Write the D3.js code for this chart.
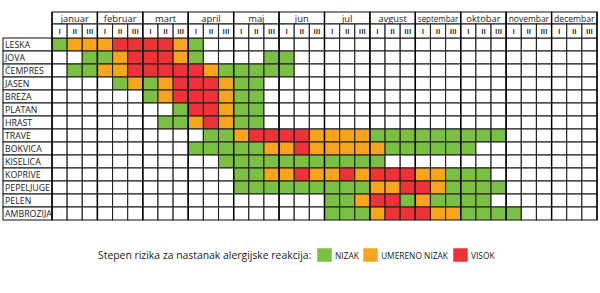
<!DOCTYPE html>
<html>
<head>
<meta charset="utf-8">
<script src="https://cdn.jsdelivr.net/npm/d3@7"></script>
<style>
  body { margin: 0; background: #fff; }
  svg { display: block; font-family: "Open Sans", Lato, sans-serif; }
</style>
</head>
<body>
<div id="chart"></div>
<script>
// months and decades of the pollen calendar
const months = ['januar', 'februar', 'mart', 'april', 'maj', 'jun', 'jul', 'avgust', 'septembar', 'oktobar', 'novembar', 'decembar'];
const decades = ['I', 'II', 'III'];
const plants = ['LESKA', 'JOVA', 'ČEMPRES', 'JASEN', 'BREZA', 'PLATAN', 'HRAST', 'TRAVE', 'BOKVICA', 'KISELICA', 'KOPRIVE', 'PEPELJUGE', 'PELEN', 'AMBROZIJA'];
// one char per decade: 0 none, 1 nizak, 2 umereno nizak, 3 visok
const levels = [
    '122233332100000000000000000000000000',
    '001123332100001100000000000000000000',
    '011223333321111100000000000000000000',
    '000012123332110000000000000000000000',
    '000000123332110000000000000000000000',
    '000000001332110000000000000000000000',
    '000000011232110000000000000000000000',
    '000000000011233332222111111111000000',
    '000000000111112232222211111100000000',
    '000000000001111111111100000000000000',
    '000000000000112232232333221110000000',
    '000000000000111111111223321111000000',
    '000000000000000000112331211110000000',
    '000000000000000000111233322111100000'
];
const legendLabels = ['NIZAK', 'UMERENO NIZAK', 'VISOK'];
const legendTitle = 'Stepen rizika za nastanak alergijske reakcija:';

const colors = { 1: '#7ac143', 2: '#f8a51d', 3: '#ed3338' };

let w = 600, h = 293;
let svg = d3.select('#chart').append('svg').attr('width', w).attr('height', h);

let cols = d3.range(months.length * decades.length);
let x = d3.scaleBand().domain(cols).range([52, 597]);
let y = d3.scaleBand().domain(plants).range([38, 220]);
let lineColor = '#222';

// coloured cells
let cells = [];
plants.forEach(function (p, i) {
    levels[i].split('').forEach(function (v, c) {
        cells.push({ plant: p, col: c, level: +v });
    });
});
svg.append('g').selectAll('rect').data(cells).join('rect')
    .attr('x', d => x(d.col)).attr('y', d => y(d.plant))
    .attr('width', x.bandwidth()).attr('height', y.bandwidth())
    .attr('fill', d => colors[d.level] || '#fff')
    .attr('stroke', lineColor).attr('stroke-width', 1.1);

// row labels
let labels = svg.append('g');
labels.selectAll('rect').data(plants).join('rect')
    .attr('x', 3).attr('y', d => y(d))
    .attr('width', 52 - 3).attr('height', y.bandwidth())
    .attr('fill', '#fff').attr('stroke', lineColor).attr('stroke-width', 1.1);
labels.selectAll('text').data(plants).join('text')
    .attr('x', 5).attr('y', d => y(d) + y.bandwidth() / 2 + 3.3)
    .attr('font-size', 8.8).attr('fill', '#1a1a1a')
    .text(d => d);

// month header
let head = svg.append('g');
let bw = x.bandwidth();
head.selectAll('rect.month').data(months).join('rect').attr('class', 'month')
    .attr('x', (d, i) => x(i * 3)).attr('y', 12)
    .attr('width', bw * 3).attr('height', 12)
    .attr('fill', '#fff').attr('stroke', lineColor).attr('stroke-width', 1.1);
head.selectAll('text.month').data(months).join('text').attr('class', 'month')
    .attr('x', (d, i) => x(i * 3) + bw * 1.5).attr('y', 21.5)
    .attr('text-anchor', 'middle').attr('font-size', 9.4).attr('fill', '#1a1a1a')
    .text(d => d)
    .each(function () {
        // long month names squeezed to fit their box, like the narrow original font
        let maxW = bw * 3 - 5;
        if (this.getComputedTextLength() > maxW) {
            d3.select(this).attr('textLength', maxW).attr('lengthAdjust', 'spacingAndGlyphs');
        }
    });

// decade header
head.selectAll('rect.dec').data(cols).join('rect').attr('class', 'dec')
    .attr('x', d => x(d)).attr('y', 24)
    .attr('width', bw).attr('height', 14)
    .attr('fill', '#fff').attr('stroke', lineColor).attr('stroke-width', 1.1);
head.selectAll('text.dec').data(cols).join('text').attr('class', 'dec')
    .attr('x', d => x(d) + bw / 2).attr('y', 34.2)
    .attr('text-anchor', 'middle').attr('font-size', 7.6).attr('font-weight', 600)
    .attr('fill', '#000')
    .text(d => decades[d % 3]);

// heavier month separators
svg.append('g').selectAll('line').data(d3.range(months.length + 1)).join('line')
    .attr('x1', i => i < months.length ? x(i * 3) : x.range()[1])
    .attr('x2', i => i < months.length ? x(i * 3) : x.range()[1])
    .attr('y1', 12).attr('y2', 220)
    .attr('stroke', '#000').attr('stroke-width', 1.4);

// legend
let legend = svg.append('g');
legend.append('text').attr('x', 98).attr('y', 259)
    .attr('font-size', 10.4).attr('fill', '#1a1a1a').text(legendTitle);
let legendX = [317, 363, 453];
legendLabels.forEach(function (l, i) {
    legend.append('rect').attr('x', legendX[i]).attr('y', 248)
        .attr('width', 15).attr('height', 14)
        .attr('fill', colors[i + 1]).attr('stroke', '#fff').attr('stroke-width', 0.5);
    legend.append('text').attr('x', legendX[i] + 18).attr('y', 258.5)
        .attr('font-size', 8.4).attr('fill', '#1a1a1a').text(l);
});
</script>
</body>
</html>
